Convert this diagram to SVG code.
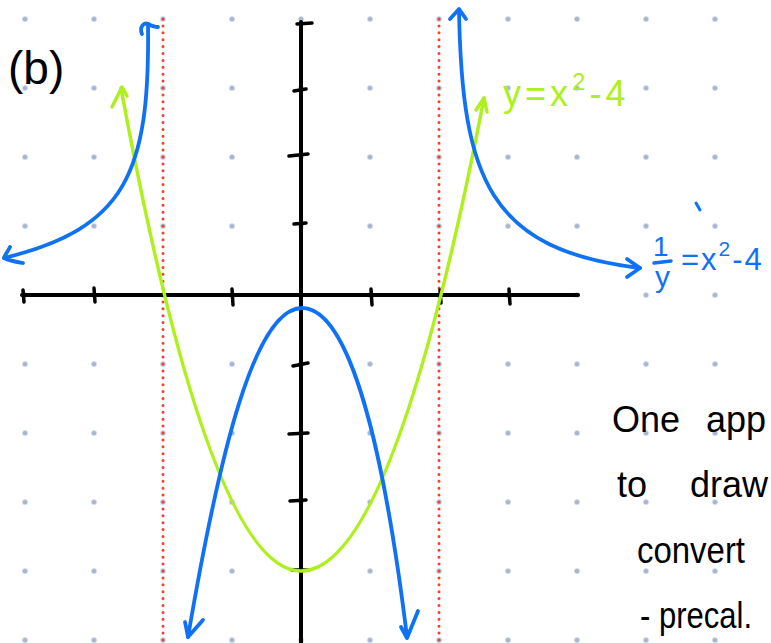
<svg xmlns="http://www.w3.org/2000/svg" width="771" height="643" viewBox="0 0 771 643">
<style>
.axis{stroke:#000;stroke-width:4;fill:none;stroke-linecap:round}
.tick{stroke:#000;stroke-width:3.5;fill:none;stroke-linecap:round}
.asym{stroke:#f2402c;stroke-width:3;stroke-dasharray:0 6.9;stroke-linecap:round;fill:none}
.green{stroke:#adf01c;stroke-width:3.5;fill:none;stroke-linecap:round;stroke-linejoin:round}
.blue{stroke:#0f72f5;stroke-width:3.8;fill:none;stroke-linecap:round;stroke-linejoin:round}
.hand{font-family:"Liberation Sans",Arial,sans-serif}
.note{font-family:"Liberation Sans",Arial,sans-serif;font-size:36px;fill:#000}
</style>
<defs>
<pattern id="dots" patternUnits="userSpaceOnUse" x="-9.5" y="-15.5" width="69" height="69">
<circle cx="34.5" cy="34.5" r="2.6" fill="#a6b6d2"/>
</pattern>
</defs>
<rect width="771" height="643" fill="#fff"/>
<rect id="grid" width="771" height="643" fill="url(#dots)"/>

<g id="asymptotes">
<line class="asym" x1="163" y1="19" x2="163" y2="643"/>
<line class="asym" x1="439" y1="19" x2="439" y2="643"/>
</g>

<g id="axes">
<line class="axis" x1="22" y1="295" x2="578" y2="295"/>
<line class="axis" x1="301" y1="22" x2="301" y2="643"/>
<path class="tick" d="M23,290 L24,302 M94,288 L95,302 M232,289 L233,305 M371,289 L372,305 M509,289 L510,304 M440,290 L441,303"/>
<path class="tick" d="M297,24 L312,23 M294,91 L306,89 M289,156 L308,154 M294,224 L306,223 M293,366 L308,363 M289,434 L308,433 M290,501 L306,500 M292,570 L309,570"/>
</g>

<g id="connectors">
<g id="parabola">
<path class="green" d="M121,88 Q210,571 301,571 Q393,571 484,98"/>
<path class="green" d="M112,107 L122,87 L127,96"/>
<path class="green" d="M476,110 L484,98 L487,112"/>
</g>
<g id="reciprocal">
<path class="blue" d="M148,24 C150,175 125,228 4,258"/>
<path class="blue" d="M142,34 C139,27 144,22 148,24 C152,26 155,27 158,27"/>
<path class="blue" d="M10,247 C7,253 4,256 4,258 C10,261 17,262 23,263"/>
<path class="blue" d="M459,10 C462,180 490,250 640,268"/>
<path class="blue" d="M450,19 L459,9 L466,19"/>
<path class="blue" d="M627,259 L640,268 L627,277"/>
<path class="blue" d="M188,637 C220,450 255,308 302,308 C350,308 384,450 407,637"/>
<path class="blue" d="M185,622 L188,637 L203,620"/>
<path class="blue" d="M401,627 L407,638 L418,611"/>
</g>
</g>

<g id="labels">
<text id="label-b" class="hand" x="8" y="84" font-size="46" fill="#000">(b)</text>
<text id="label-parabola" class="hand" x="503" y="106" font-size="36" fill="#adf01c" letter-spacing="4">y=x<tspan dy="-16" font-size="24">2</tspan><tspan dy="16">-4</tspan></text>
<g id="label-reciprocal" fill="#0f72f5">
<text class="hand" x="653" y="256" font-size="28">1</text>
<line x1="654" y1="263" x2="671" y2="261" stroke="#0f72f5" stroke-width="3.5" stroke-linecap="round"/>
<text class="hand" x="655" y="287" font-size="30">y</text>
<text class="hand" x="681" y="270" font-size="31" letter-spacing="2">=x<tspan dy="-14" font-size="21">2</tspan><tspan dy="14">-4</tspan></text>
<line x1="696" y1="203" x2="700" y2="210" stroke="#0f72f5" stroke-width="3" stroke-linecap="round"/>
</g>
<g id="notes">
<text class="note" x="612" y="432">One<tspan x="706">app</tspan></text>
<text class="note" x="617" y="497">to<tspan x="690">draw</tspan></text>
<text class="note" x="637" y="563" textLength="108" lengthAdjust="spacingAndGlyphs">convert</text>
<text class="note" x="640" y="628" textLength="112" lengthAdjust="spacingAndGlyphs">- precal.</text>
</g>
</g>
</svg>
